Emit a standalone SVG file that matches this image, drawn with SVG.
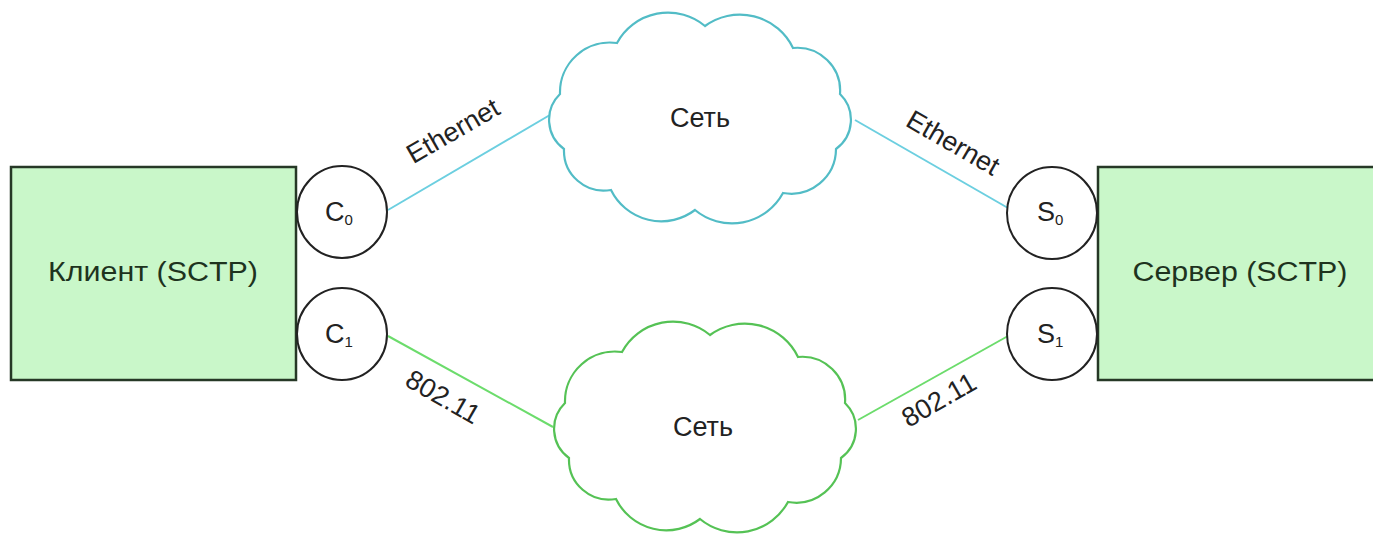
<svg xmlns="http://www.w3.org/2000/svg" width="1373" height="535" viewBox="0 0 1373 535">
<defs>
<style>
.box{fill:#c9f7c9;stroke:#263826;stroke-width:2.5}
.port{fill:#ffffff;stroke:#222;stroke-width:2}
.cloud{fill:#ffffff;stroke-width:2.2}
.t{font-family:"Liberation Sans",Arial,sans-serif;fill:#222}
.bt{font-family:"Liberation Sans",Arial,sans-serif;fill:#1e331e;font-size:27px}
.eth{stroke:#6ccfe0;stroke-width:2;fill:none}
.wif{stroke:#6cdc6c;stroke-width:2;fill:none}
</style>
<path id="cloudShape" d="M -140,-24 A 50 50 0 0 1 -83,-75 A 58 58 0 0 1 5,-92 A 59 59 0 0 1 93,-70 A 43 43 0 0 1 140,-24 A 36 36 0 0 1 136,31 A 45 45 0 0 1 83,75 A 58 58 0 0 1 -5,92 A 56 56 0 0 1 -89,72 A 40 40 0 0 1 -136,31 A 36 36 0 0 1 -140,-24 Z"/>
</defs>
<rect width="1373" height="535" fill="#ffffff"/>
<g id="connectors">
<line class="eth" x1="388" y1="210" x2="555" y2="112"/>
<line class="eth" x1="855" y1="120" x2="1008" y2="208"/>
<line class="wif" x1="388" y1="336" x2="553" y2="427"/>
<line class="wif" x1="858" y1="420" x2="1008" y2="336"/>
<text class="t" font-size="27" text-anchor="middle" transform="translate(453,131) rotate(-30)" y="9">Ethernet</text>
<text class="t" font-size="27" text-anchor="middle" transform="translate(953,143) rotate(30)" y="9">Ethernet</text>
<text class="t" font-size="27" text-anchor="middle" transform="translate(443,397) rotate(30)" y="9">802.11</text>
<text class="t" font-size="27" text-anchor="middle" transform="translate(939,400) rotate(-30)" y="9">802.11</text>
</g>
<g id="client">
<rect class="box" x="11" y="167" width="285" height="213"/>
<text class="bt" x="153" y="281" text-anchor="middle" textLength="210" lengthAdjust="spacingAndGlyphs">Клиент (SCTP)</text>
</g>
<g id="server">
<rect class="box" x="1098" y="167" width="300" height="213"/>
<text class="bt" x="1240" y="281" text-anchor="middle" textLength="215" lengthAdjust="spacingAndGlyphs">Сервер (SCTP)</text>
</g>
<g id="c0">
<ellipse class="port" cx="342" cy="212" rx="45" ry="46"/>
<text class="t" x="325" y="221" font-size="27">C<tspan font-size="15" dy="4">0</tspan></text>
</g>
<g id="c1">
<ellipse class="port" cx="342" cy="334" rx="45" ry="46"/>
<text class="t" x="325" y="343" font-size="27">C<tspan font-size="15" dy="4">1</tspan></text>
</g>
<g id="s0">
<ellipse class="port" cx="1052" cy="213" rx="45" ry="46"/>
<text class="t" x="1037" y="221" font-size="27">S<tspan font-size="15" dy="4">0</tspan></text>
</g>
<g id="s1">
<ellipse class="port" cx="1052" cy="334" rx="45" ry="46"/>
<text class="t" x="1037" y="343" font-size="27">S<tspan font-size="15" dy="4">1</tspan></text>
</g>
<g id="net-top">
<use href="#cloudShape" class="cloud" transform="translate(700,118)" stroke="#52bcc6"/>
<text class="t" x="700" y="127" font-size="27" text-anchor="middle">Сеть</text>
</g>
<g id="net-bottom">
<use href="#cloudShape" class="cloud" transform="translate(705,427)" stroke="#55c255"/>
<text class="t" x="703" y="436" font-size="27" text-anchor="middle">Сеть</text>
</g>
</svg>
